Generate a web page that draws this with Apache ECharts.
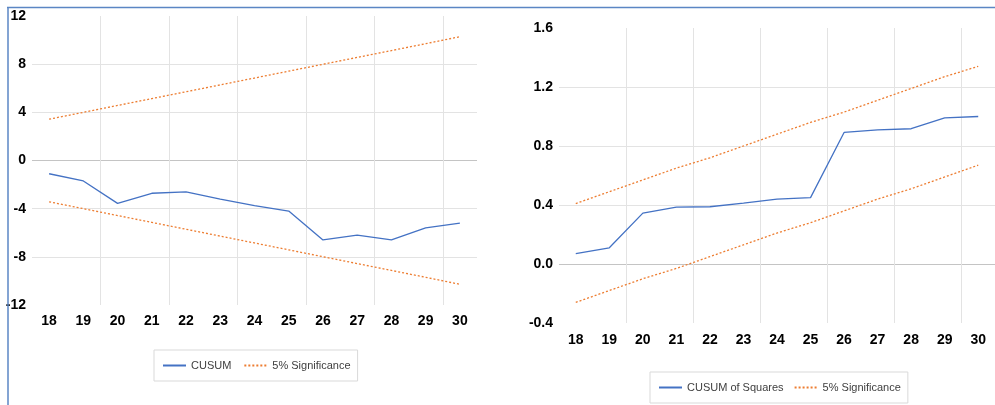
<!DOCTYPE html>
<html>
<head>
<meta charset="utf-8">
<style>
  html, body { margin: 0; padding: 0; background: #ffffff; }
  #chart { width: 995px; height: 405px; }
</style>
<script src="https://cdn.jsdelivr.net/npm/echarts@6/dist/echarts.min.js"></script>
</head>
<body>
<div id="chart"></div>
<script>
// ---- data ----
const years = ['18','19','20','21','22','23','24','25','26','27','28','29','30'];
const cusum = [-1.1, -1.7, -3.56, -2.72, -2.6, -3.2, -3.75, -4.2, -6.6, -6.2, -6.6, -5.6, -5.2];
const cusumUpper = [3.43, 4.00, 4.57, 5.14, 5.71, 6.28, 6.85, 7.42, 7.99, 8.56, 9.13, 9.70, 10.28];
const cusumLower = [-3.43, -4.00, -4.57, -5.14, -5.71, -6.28, -6.85, -7.42, -7.99, -8.56, -9.13, -9.70, -10.28];
const cusumSq = [0.07, 0.11, 0.345, 0.386, 0.388, 0.413, 0.44, 0.45, 0.892, 0.91, 0.917, 0.99, 1.0];
const sqUpper = [0.41, 0.49, 0.57, 0.65, 0.72, 0.80, 0.88, 0.96, 1.03, 1.11, 1.19, 1.27, 1.34];
const sqLower = [-0.26, -0.18, -0.10, -0.03, 0.05, 0.13, 0.21, 0.28, 0.36, 0.44, 0.51, 0.59, 0.67];
const leftTicks = { min: -12, max: 12, interval: 4 };
const rightTicks = { min: -0.4, max: 1.6, interval: 0.4 };
const legendLeft = ['CUSUM', '5% Significance'];
const legendRight = ['CUSUM of Squares', '5% Significance'];

// ---- styles ----
const BLUE = '#4472c4';
const ORANGE = '#ed7d31';
const GRID = '#e3e3e3';
const ZERO = '#c4c4c4';
const tickFont = { fontFamily: 'Liberation Sans, Arial, sans-serif', fontWeight: 'bold', fontSize: 14, color: '#000' };
const legendFont = { fontFamily: 'Liberation Sans, Arial, sans-serif', fontSize: 11, color: '#404040' };

function xAxisCfg(gridIndex, margin) {
  return {
    type: 'category', gridIndex: gridIndex, data: years, boundaryGap: true,
    axisLine: { show: false }, axisTick: { show: false },
    axisLabel: Object.assign({ margin: margin, interval: 0 }, tickFont),
    splitLine: { show: true, showMinLine: true, showMaxLine: false,
                 interval: function (i) { return i > 0 && i % 2 === 0; },
                 lineStyle: { color: GRID, width: 1 } }
  };
}
function yAxisCfg(gridIndex, t, colors, fmt) {
  return {
    type: 'value', gridIndex: gridIndex, min: t.min, max: t.max, interval: t.interval,
    axisLine: { show: false }, axisTick: { show: false },
    axisLabel: Object.assign({ margin: 6, formatter: fmt }, tickFont),
    splitLine: { show: true, lineStyle: { color: colors, width: 1 } }
  };
}
function lineSeries(name, data, idx, color, dotted, width) {
  return {
    name: name, type: 'line', xAxisIndex: idx, yAxisIndex: idx, data: data,
    symbol: 'none', showSymbol: false, smooth: false, silent: true,
    lineStyle: { color: color, width: width, type: dotted ? [2, 2] : 'solid' },
    itemStyle: { color: color }
  };
}
function legendCfg(data, left, top, gap) {
  return {
    data: data, left: left, top: top, orient: 'horizontal',
    itemWidth: 23, itemHeight: 10, itemGap: gap,
    padding: [10, 7, 10, 8], borderColor: '#d9d9d9', borderWidth: 1,
    itemStyle: { opacity: 0 },
    textStyle: legendFont, selectedMode: false
  };
}

const chart = echarts.init(document.getElementById('chart'), null, { renderer: 'canvas' });
chart.setOption({
  animation: false,
  backgroundColor: '#ffffff',
  grid: [
    { left: 32, top: 16, width: 445, height: 289, containLabel: false },
    { left: 559, top: 28, width: 437, height: 295, containLabel: false }
  ],
  xAxis: [xAxisCfg(0, 9), xAxisCfg(1, 10)],
  yAxis: [
    yAxisCfg(0, leftTicks, ['transparent', GRID, GRID, ZERO, GRID, GRID, 'transparent'], function (v) { return String(v); }),
    yAxisCfg(1, rightTicks, ['transparent', ZERO, GRID, GRID, GRID, 'transparent'], function (v) { return v.toFixed(1); })
  ],
  legend: [
    legendCfg(legendLeft, 154, 350, 12),
    legendCfg(legendRight, 650, 372, 10)
  ],
  graphic: [
    { type: 'line', shape: { x1: 7, y1: 7.5, x2: 995, y2: 7.5 }, style: { stroke: '#5b86c4', lineWidth: 1.5 }, z: 100 },
    { type: 'line', shape: { x1: 8, y1: 7, x2: 8, y2: 405 }, style: { stroke: '#5b86c4', lineWidth: 1.5 }, z: 100 }
  ],
  series: [
    lineSeries('CUSUM', cusum, 0, BLUE, false, 1.3),
    lineSeries('5% Significance', cusumUpper, 0, ORANGE, true, 1.3),
    lineSeries('5% Significance', cusumLower, 0, ORANGE, true, 1.3),
    lineSeries('CUSUM of Squares', cusumSq, 1, BLUE, false, 1.3),
    lineSeries('5% Significance', sqUpper, 1, ORANGE, true, 1.3),
    lineSeries('5% Significance', sqLower, 1, ORANGE, true, 1.3)
  ]
});
</script>
</body>
</html>
